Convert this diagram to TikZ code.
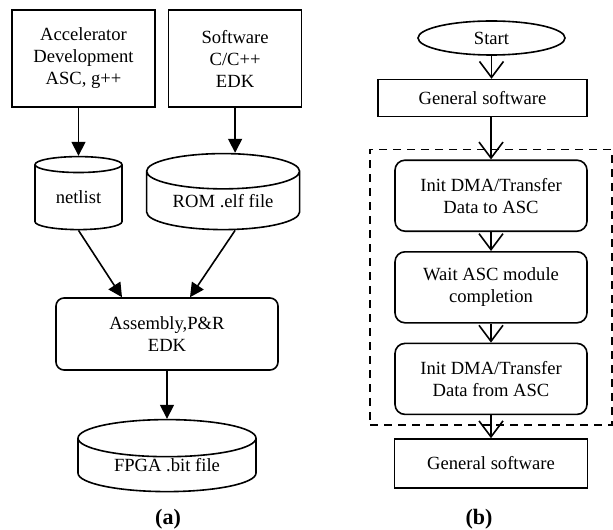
\documentclass[tikz,border=0pt]{standalone}
\usepackage{fontspec}
\setmainfont{Liberation Serif}
\usetikzlibrary{positioning,shapes.geometric,arrows.meta,fit}

\begin{document}
\begin{tikzpicture}[font=\fontsize{9.3}{11}\selectfont,
    main/.style = {rectangle, draw, thick, align=center, inner sep=0pt},
    can/.style = {cylinder, shape border rotate=90, aspect=0.35, draw, thick, inner sep=0pt},
    rnd/.style = {main, rounded corners=5pt},
    fwd/.style = {thick, -{Triangle[length=7pt,width=7pt]}},
    flow/.style = {thick, -{Straight Barb[length=8pt,width=12pt]}}]
    \useasboundingbox (0,0) rectangle (306.5pt,-264.5pt);

    % (a) design flow
    \node[main, minimum width=71.5pt, minimum height=48.5pt] (1) at (41.75pt,-29.25pt) {Accelerator\\Development\\ASC, g++}; 
    \node[main, minimum width=66.5pt, minimum height=48.5pt] (2) [right=6pt of 1] {Software\\C/C++\\EDK}; 
    \node[can, minimum width=43.5pt, minimum height=36.5pt] (3) [below=24pt of 1, xshift=-2.5pt] {netlist}; 
    \node[can, minimum width=76.5pt, minimum height=38pt] (4) [below=22.5pt of 2, xshift=-6pt] {ROM .elf file}; 
    \node[rnd, rounded corners=4pt, minimum width=111pt, minimum height=36pt] (5) at (83.5pt,-167pt) {Assembly,P\&R\\EDK}; 
    \node[can, minimum width=89pt, minimum height=36pt] (6) [below=24pt of 5] {FPGA .bit file}; 

    \path[fwd] (1.south -| 3.north) edge (3.north);
    \path[fwd] (2.south) edge (2.south |- 4.north);
    \path[fwd] (3.south) edge ([xshift=-22.5pt]5.north);
    \path[fwd] (2.south |- 4.south) edge ([xshift=11.5pt]5.north);
    \path[fwd] (5) edge (6);

    \node[font=\fontsize{11}{13}\selectfont\bfseries] (a) at (84pt,-259.5pt) {(a)};

    % (b) software flow
    \node[ellipse, draw, thick, inner sep=0pt, minimum width=73.5pt, minimum height=17pt] (7) at (245.75pt,-19pt) {Start}; 
    \node[main, minimum width=104.5pt, minimum height=18.5pt] (8) [below=11.5pt of 7, xshift=-4.5pt] {General software}; 
    \node[rnd, minimum width=96pt, minimum height=35.5pt] (9) [below=21pt of 8, xshift=4.25pt] {Init DMA/Transfer\\Data to ASC}; 
    \node[rnd, minimum width=96pt, minimum height=35.5pt] (10) [below=9.5pt of 9] {Wait ASC module\\completion}; 
    \node[rnd, minimum width=96pt, minimum height=35.5pt] (11) [below=9.5pt of 10] {Init DMA/Transfer\\Data from ASC}; 
    \node[main, minimum width=96.5pt, minimum height=24.5pt] (12) [below=11.5pt of 11] {General software}; 
    \node[draw, thick, dash pattern=on 4pt off 3pt, inner xsep=12pt, inner ysep=5pt, fit=(9)(10)(11)] (13) {};

    \path[flow] (7) edge (7.south |- 8.north);
    \path[flow] (9.north |- 8.south) edge (9);
    \path[flow] (9) edge (10);
    \path[flow] (10) edge (11);
    \path[flow] (11) edge (12);

    \node[font=\fontsize{11}{13}\selectfont\bfseries] (b) at (239.5pt,-259.5pt) {(b)};

\end{tikzpicture}
\end{document}
